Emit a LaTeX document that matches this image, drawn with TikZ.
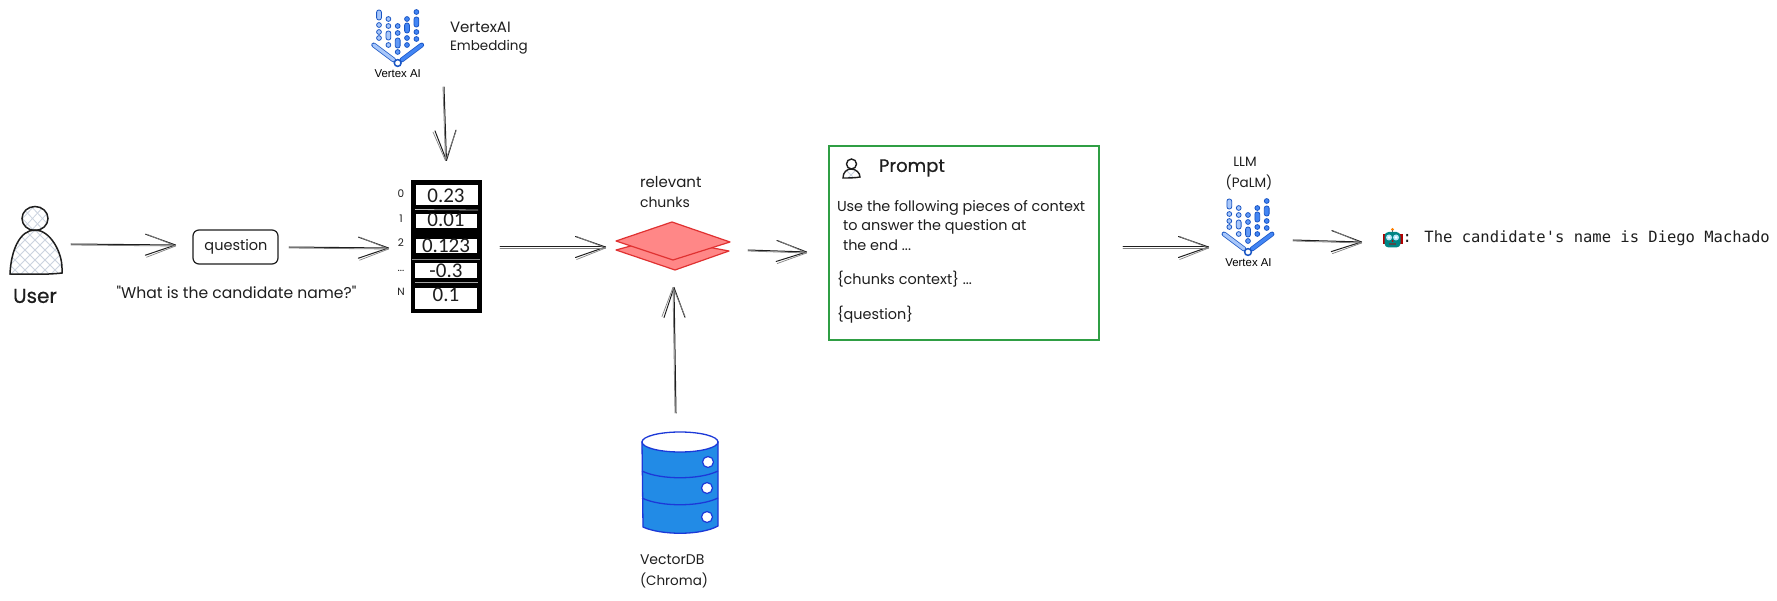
\documentclass[tikz,border=0pt]{standalone}
\usepackage{fontspec}
\usetikzlibrary{arrows.meta,calc}
\newfontfamily\handfont{Poppins}
\newfontfamily\handbold[FakeBold=0.7]{Poppins}
\newfontfamily\valfont{Carlito}
\newfontfamily\monofam{DejaVu Sans Mono}
\newfontfamily\labelfam{Liberation Sans}
\definecolor{inkc}{HTML}{1E1E1E}
\definecolor{hatchc}{HTML}{CBD3DF}
\definecolor{lightv}{HTML}{A8C7FA}
\definecolor{bluev}{HTML}{4285F4}
\definecolor{strokev}{HTML}{1A56C4}
\definecolor{redf}{HTML}{FF8787}
\definecolor{reds}{HTML}{E03131}
\definecolor{dbf}{HTML}{228BE6}
\definecolor{dbs}{HTML}{1C39D8}
\definecolor{greenb}{HTML}{2F9E44}
\tikzset{
  box/.style={inner sep=0pt,outer sep=0pt,draw=none},
  hand/.style={inner sep=0pt,outer sep=0pt,text=inkc,font=\handfont\fontsize{#1}{#1}\selectfont},
  hand/.default=13.5,
  lefthand/.style={hand=#1,anchor=west},
  lefthand/.default=13.5,
  boldhand/.style={inner sep=0pt,outer sep=0pt,text=inkc,font=\handbold\fontsize{#1}{#1}\selectfont},
  idx/.style={inner sep=0pt,text=inkc,font=\handfont\fontsize{10.5}{10.5}\selectfont},
  val/.style={inner sep=0pt,text=inkc,font=\valfont\fontsize{21}{21}\selectfont},
  cell/.style={fill=white,draw=none},
  skarrow/.style={draw=inkc,line width=1pt,line cap=round,
    -{Straight Barb[length=30pt,width=21pt,round,line width=1pt]},
    postaction={draw=inkc!55,line width=.8pt,-{Straight Barb[length=29pt,width=23pt,round,line width=.7pt]},transform canvas={yshift=-1pt}}},
  skarrowv/.style={draw=inkc,line width=1pt,line cap=round,
    -{Straight Barb[length=30pt,width=21pt,round,line width=1pt]},
    postaction={draw=inkc!55,line width=.8pt,-{Straight Barb[length=29pt,width=23pt,round,line width=.7pt]},transform canvas={xshift=-1pt}}},
  pl/.style={fill=lightv,draw=strokev,line width=.8pt},
  pb/.style={fill=bluev,draw=strokev,line width=.8pt},
  hatch/.style={draw=hatchc,line width=.8pt},
  vlabel/.style={inner sep=0pt,font=\labelfam\fontsize{11.4}{11.4}\selectfont,text=black},
}
% icon: origin is the centre of the small ring at the bottom
\newcommand{\vxicon}[2]{%
\begin{scope}[shift={(#1,#2)}]
  \path[pl,rounded corners=2.2pt] (-21.1,-53) rectangle (-16.3,-43);
  \foreach \yy in {-38,-31,-25}{\path[pl] (-18.7,\yy) circle (2.4);}
  \foreach \yy in {-44,-37,-18}{\path[pl] (-9.3,\yy) circle (2.4);}
  \path[pl,rounded corners=2.2pt] (-11.7,-32) rectangle (-6.9,-23);
  \foreach \yy in {-37,-30,-11}{\path[fill=bluev!70!lightv,draw=strokev,line width=.8pt] (0,\yy) circle (2.4);}
  \path[fill=bluev!70!lightv,draw=strokev,line width=.8pt,rounded corners=2.2pt] (-2.4,-25) rectangle (2.4,-15);
  \foreach \yy in {-44,-25,-18}{\path[pb] (9.3,\yy) circle (2.4);}
  \path[pb,rounded corners=2.2pt] (6.9,-40) rectangle (11.7,-30);
  \foreach \yy in {-51,-31,-24}{\path[pb] (18.7,\yy) circle (2.4);}
  \path[pb,rounded corners=2.2pt] (16.3,-46) rectangle (21.1,-36);
  \draw[strokev,line width=4.8pt,line cap=round] (-24,-18) -- (-4,-3);
  \draw[lightv,line width=3.3pt,line cap=round] (-24,-18) -- (-4,-3);
  \draw[strokev,line width=4.8pt,line cap=round] (24,-18) -- (4,-3);
  \draw[bluev,line width=3.3pt,line cap=round] (24,-18) -- (4,-3);
  \draw[fill=white,draw=strokev,line width=1.5pt] (0,0) circle (3.4);
\end{scope}}
\newcommand{\bodypath}{(10,274) .. controls (11,250) and (20,230) .. (35,230) .. controls (50,230) and (62,252) .. (62,268) -- (62,273) .. controls (45,275) and (25,274) .. (10,274) -- cycle}
\newcommand{\pbodypath}{(843,178) .. controls (843,172) and (847,169) .. (851,169) .. controls (856,169) and (860,173) .. (860,177) .. controls (855,178) and (848,178) .. (843,178) -- cycle}
\begin{document}
\begin{tikzpicture}[x=1pt,y=-1pt]
\useasboundingbox (0,0) rectangle (1777,601);
\fill[white] (0,0) rectangle (1777,601);

% ---------- nodes (extents) ----------
\node[box,minimum width=52pt,minimum height=68pt] (user) at (36,241) {};
\node[box,draw=inkc,line width=1.2pt,rounded corners=6pt,minimum width=85pt,minimum height=34pt] (question) at (235.5,247) {};
\node[box,minimum width=71pt,minimum height=133pt] (vector) at (446.5,246.5) {};
\node[box,minimum width=114pt,minimum height=48pt] (chunks) at (673,246) {};
\node[box,draw=greenb,line width=2pt,minimum width=270pt,minimum height=194pt] (prompt) at (964,243) {};
\node[box,minimum width=52pt,minimum height=70pt] (topv) at (397.5,40) {};
\node[box,minimum width=52pt,minimum height=70pt] (llm) at (1248,229) {};
\node[box,minimum width=76pt,minimum height=100pt] (db) at (680,483) {};
\node[box,minimum width=19pt,minimum height=19pt] (robot) at (1392.5,238) {};

% ---------- user ----------
\begin{scope}
  \clip \bodypath;
  \foreach \k in {-40,-30,...,80}{
    \draw[hatch] (\k,225) -- ({\k+60},285);
    \draw[hatch] ({\k+60},225) -- (\k,285);
  }
\end{scope}
\begin{scope}
  \clip (35,218.5) ellipse (13 and 12);
  \foreach \k in {0,10,...,60}{
    \draw[hatch] (\k,205) -- ({\k+25},232);
    \draw[hatch] ({\k+25},205) -- (\k,232);
  }
\end{scope}
\draw[inkc,line width=1.5pt] \bodypath;
\draw[inkc,line width=1.5pt] (35,218.5) ellipse (13 and 12);
\node[boldhand=20] (userlabel) at (35,296) {User};

% ---------- question ----------
\node[hand=14.5] (questiontext) at (236,247) {question};
\node[hand=15.6] (questionquote) at (236.5,292) {"What is the candidate name?"};

% ---------- vertex embedding ----------
\vxicon{397.7}{63}
\node[vlabel] (topvlabel) at (397.7,74) {Vertex AI};
\node[lefthand=15] (embed1) at (450,27) {VertexAI};
\node[lefthand=13.5] (embed2) at (450,47) {Embedding};

% ---------- vector ----------
\fill[black] (vector.north west) rectangle (vector.south east);
\fill[cell] (415.5,185) rectangle (477.5,205);
\fill[cell] (416,214) rectangle (477,228);
\fill[cell] (416,239) rectangle (477,253);
\fill[cell] (415,263) rectangle (477,278);
\fill[cell] (415,288) rectangle (477,309);
\draw[white!75!black,line width=.8pt] (415,209.5) -- (478,210);
\draw[white!55!black,line width=.8pt] (412,259) -- (480,259);
\draw[white!65!black,line width=.8pt] (415,282.5) -- (478,282.5);
\begin{scope}
  \clip (415.5,185) rectangle (477.5,205);
  \node[val] (v0) at (446,196) {0.23};
\end{scope}
\begin{scope}
  \clip (416,214) rectangle (477,228);
  \node[val] (v1) at (446,220) {0.01};
\end{scope}
\begin{scope}
  \clip (416,239) rectangle (477,253);
  \node[val] (v2) at (446,246) {0.123};
\end{scope}
\begin{scope}
  \clip (415,263) rectangle (477,278);
  \node[val] (v3) at (446,271) {-0.3};
\end{scope}
\begin{scope}
  \clip (415,288) rectangle (477,309);
  \node[val] (v4) at (446,295) {0.1};
\end{scope}
\node[idx] (i0) at (401,194) {0};
\node[idx] (i1) at (401,219) {1};
\node[idx] (i2) at (401,243) {2};
\node[idx] (i3) at (401,271) {...};
\node[idx] (i4) at (401,292) {N};

% ---------- relevant chunks ----------
\node[lefthand=15] (rel1) at (640,182) {relevant};
\node[lefthand=14] (rel2) at (640,202) {chunks};
\draw[reds,fill=redf,line width=1.2pt,line join=round] (616,250) -- (660,238) -- (729,251) -- (675,270) -- cycle;
\draw[reds,fill=redf,line width=1.2pt,line join=round] (616,241) -- (672,222) -- (730,242) -- (673,260) -- cycle;

% ---------- vector DB ----------
\draw[dbs,fill=dbf,line width=1.3pt] (642,442) -- (643,527) .. controls (660,535) and (700,536) .. (718,526) -- (718,442) -- cycle;
\draw[dbs,fill=white,line width=1.3pt] (680,442) ellipse (38 and 10);
\draw[dbs,line width=1.3pt] (642,471) .. controls (660,480) and (700,480) .. (718,471);
\draw[dbs,line width=1.3pt] (642,498) .. controls (660,507) and (700,507) .. (718,498);
\draw[dbs,fill=white,line width=1.2pt] (708,462) circle (5.5);
\draw[dbs,fill=white,line width=1.2pt] (707,488) circle (5.5);
\draw[dbs,fill=white,line width=1.2pt] (707,517) circle (5.5);
\node[lefthand=14] (dbl1) at (640,560) {VectorDB};
\node[lefthand=13.5] (dbl2) at (640,580) {(Chroma)};

% ---------- prompt ----------
\begin{scope}
  \clip \pbodypath;
  \draw[hatch] (846,170) -- (856,180);
  \draw[hatch] (856,170) -- (846,180);
\end{scope}
\draw[inkc,line width=1.4pt] \pbodypath;
\draw[inkc,line width=1.4pt] (851.5,164) circle (5);
\node[boldhand=18,anchor=west] (ptitle) at (879,168) {Prompt};
\node[lefthand=14.4] (p1) at (837,208) {Use the following pieces of context};
\node[lefthand=14.4] (p2) at (843,227) {to answer the question at};
\node[lefthand=14.4] (p3) at (843,245) {the end ...};
\node[lefthand=14.4] (p4) at (837,279) {\{chunks context\} ...};
\node[lefthand=14.4] (p5) at (837,315) {\{question\}};

% ---------- LLM ----------
\node[hand=13.5] (llm1) at (1245,162) {LLM};
\node[hand=13.5] (llm2) at (1249,182) {(PaLM)};
\vxicon{1248}{252}
\node[vlabel] (llmlabel) at (1248.5,263) {Vertex AI};

% ---------- answer ----------
\draw[red!70!black,fill=red!70!black] (1383,234) rectangle (1402,243);
\fill[orange] (1392.5,229.5) circle (1.7);
\draw[black!60,line width=.8pt] (1392.5,230) -- (1392.5,233);
\fill[teal!70!cyan!80!black,rounded corners=4pt] (1384.5,232) rectangle (1400.5,247.5);
\fill[cyan!30!white] (1389,237.5) circle (3);
\fill[cyan!30!white] (1396,237.5) circle (3);
\fill[white] (1389,237.5) circle (1.4);
\fill[white] (1396,237.5) circle (1.4);
\fill[red!75!black] (1392.5,241) circle (1);
\fill[black!70] (1389,243.5) rectangle (1396,245);
\node[inner sep=0pt,anchor=west,font=\monofam\fontsize{15.5}{15.5}\selectfont,text=inkc] (answer) at (1402.5,238.5) {: The candidate's name is Diego Machado};

% ---------- connectors ----------
\draw[skarrow] ($(user.east)+(9,3)$) -- ($(question.west)+(-17,-2)$);
\draw[skarrow] ($(question.east)+(11,0)$) -- ($(vector.west)+(-22,1.5)$);
\draw[skarrow] ($(vector.east)+(18,0.5)$) -- ($(chunks.west)+(-10,1)$);
\draw[skarrow] ($(chunks.east)+(18,4)$) -- ($(prompt.west)+(-22,9)$);
\draw[skarrow] ($(prompt.east)+(24,4)$) -- ($(llm.west)+(-13,18)$);
\draw[skarrow] ($(llm.east)+(19,11)$) -- ($(robot.west)+(-21,4)$);
\draw[skarrowv] ($(topv.south)+(46.5,12)$) -- ($(vector.north)+(0,-19)$);
\draw[skarrowv] ($(db.north)+(-4,-20)$) -- ($(chunks.south)+(1,17)$);
\end{tikzpicture}
\end{document}
